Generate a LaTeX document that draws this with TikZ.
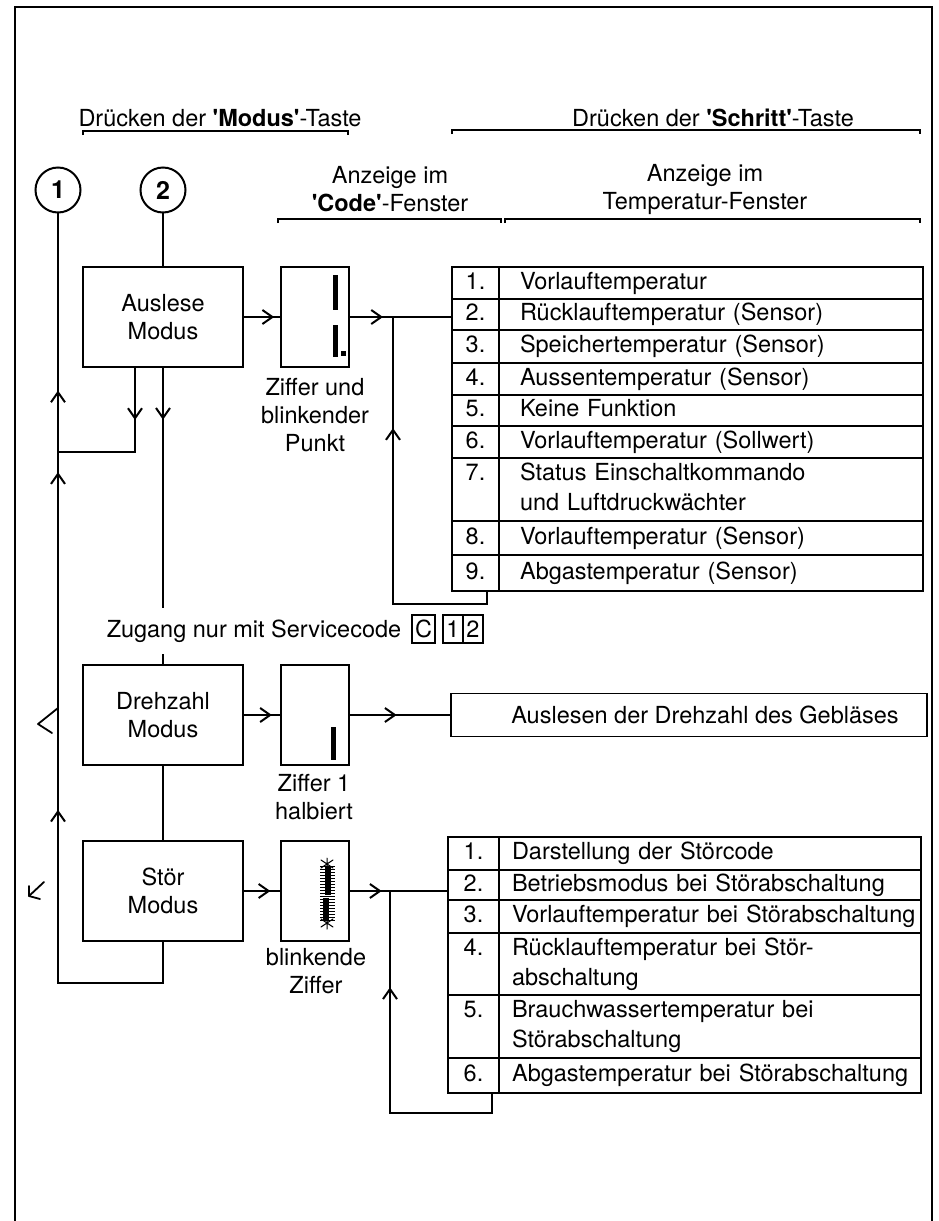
\documentclass[tikz,border=0pt]{standalone}
\usepackage{fontspec}
\setmainfont{TeX Gyre Heros}
\usepackage{tikz}
\usetikzlibrary{calc, positioning, arrows, arrows.meta, decorations.markings}
\tikzstyle{mode}=[draw, line width=0.9pt, minimum width=80pt, minimum height=50pt, inner sep=0pt, outer sep=0pt, align=center]
\tikzstyle{disp}=[draw, line width=0.9pt, minimum width=34pt, minimum height=50pt, inner sep=0pt, outer sep=0pt]
\tikzstyle{rnd}=[draw, circle, line width=1pt, minimum size=22.5pt, inner sep=0pt, outer sep=0pt, font=\fontsize{12.5pt}{14pt}\bfseries]
\tikzstyle{nrcell}=[draw, line width=0.6pt, anchor=north west, inner sep=0pt, outer sep=0pt, align=center, font=\fontsize{11.75pt}{15pt}\selectfont, execute at begin node=\strut, execute at end node=\strut]
\tikzstyle{txcell}=[draw, line width=0.6pt, anchor=north west, inner sep=0pt, outer sep=0pt, align=left, font=\fontsize{11.75pt}{15pt}\selectfont, execute at end node=\strut]
\tikzstyle{nra}=[nrcell, text width=23.5pt]
\tikzstyle{nrb}=[nrcell, text width=25.5pt]
\tikzstyle{txa}=[txcell, text width=212pt, execute at begin node={\leftskip=10.5pt\strut}]
\tikzstyle{txb}=[txcell, text width=211pt, execute at begin node={\leftskip=6.5pt\strut}]
\tikzstyle{kbox}=[draw, line width=0.6pt, minimum width=10pt, minimum height=14pt, inner sep=0pt, outer sep=0pt]
\tikzstyle{flow}=[line width=1pt]
\tikzstyle{brk}=[line width=0.6pt]
\tikzstyle{seg}=[line width=2.5pt]
\tikzstyle{pen}=[line width=0.9pt, line cap=round, line join=round]
\tikzset{arrat/.style={postaction={decoration={markings, mark=at position #1 with {\arrow{Straight Barb[length=5pt,width=7pt]}}}, decorate}}}
\newcommand{\qmk}{\textquotesingle}

\begin{document}
\begin{tikzpicture}[x=0.5pt, y=-0.5pt, font=\fontsize{11.75pt}{14pt}\selectfont]
\useasboundingbox (0,0) rectangle (938,1221);
\draw[line width=0.75pt] (15,1221) -- (15,7) -- (932,7) -- (932,1221);
% headings
\node (hmod) at (220,118) {Drücken der \textbf{\qmk Modus\qmk}-Taste};
\node (hschr) at (713,118) {Drücken der \textbf{\qmk Schritt\qmk}-Taste};
\node[align=center] (hcode) at (390,189) {Anzeige im\\\textbf{\qmk Code\qmk}-Fenster};
\node[align=center] (htemp) at (705,189) {Anzeige im\\Temperatur-Fenster};
\draw[brk] (83,135) -- (83,131) -- (348,131) -- (348,135);
\draw[brk] (452,134) -- (452,130) -- (920,130) -- (920,134);
\draw[brk] (278,223) -- (278,219) -- (501,219) -- (501,223);
\draw[brk] (505,223) -- (505,219) -- (920,219) -- (920,223);
%
\node[rnd] (c1) at (58,190) {1};
\node[rnd] (c2) at (163,190) {2};
%
\node[mode] (aus) at (163,317) {Auslese\\Modus};
\node[mode] (dreh) at (163,715) {Drehzahl\\Modus};
\node[mode] (stoer) at (163,891) {Stör\\Modus};
\node[disp] (cd1) at (315,317) {};
\node[disp] (cd2) at (315,715) {};
\node[disp] (cd3) at (315,891) {};
\node[align=center] (lab1) at (315,415) {Ziffer und\\blinkender\\Punkt};
\node[align=center] (lab2) at (314,797) {Ziffer 1\\halbiert};
\node[align=center] (lab3) at (316,971) {blinkende\\Ziffer};
%
\node[inner xsep=0pt, inner ysep=5.75pt] (zug) at (254,631) {Zugang nur mit Servicecode};
\node[kbox, minimum width=11.5pt] (kc) at (423.5,629) {C};
\node[kbox] (k1) at (453,629) {1};
\node[kbox] (k2) at (473,629) {2};
%
\node[draw, line width=0.6pt, minimum width=238pt, minimum height=21.5pt, inner sep=0pt] (ausl) at (689,715) {\hspace*{16pt}Auslesen der Drehzahl des Gebläses};
% digits in the code window
\draw[seg] (335,275) -- (335,310);
\draw[seg] (335,325) -- (335,357);
\fill (341,351) rectangle (346,356);
\draw[seg] (333,727) -- (333,760);
\draw[line width=7.5pt, dash pattern=on 0.6pt off 0.9pt] (327,866) -- (327,922);
\draw[line width=3pt] (328,866) -- (328,895);
\draw[line width=3pt] (326,898) -- (326,921);
\draw[pen, line width=0.5pt] (327,858) -- (327,866) (321,860) -- (333,868) (333,860) -- (321,868);
\draw[pen, line width=0.5pt] (327,921) -- (327,929) (321,927) -- (333,919) (333,927) -- (321,919);
% table 1
\node[nra, minimum height=16pt] (na1) at (452,267) {1.};
\node[txa, minimum height=16pt] (ta1) at (499,267) {Vorlauftemperatur};
\node[nra, minimum height=15.5pt] (na2) at (452,299) {2.};
\node[txa, minimum height=15.5pt] (ta2) at (499,299) {Rücklauftemperatur (Sensor)};
\node[nra, minimum height=16.5pt] (na3) at (452,330) {3.};
\node[txa, minimum height=16.5pt] (ta3) at (499,330) {Speichertemperatur (Sensor)};
\node[nra, minimum height=16pt] (na4) at (452,363) {4.};
\node[txa, minimum height=16pt] (ta4) at (499,363) {Aussentemperatur (Sensor)};
\node[nra, minimum height=15.5pt] (na5) at (452,395) {5.};
\node[txa, minimum height=15.5pt] (ta5) at (499,395) {Keine Funktion};
\node[nra, minimum height=16pt] (na6) at (452,426) {6.};
\node[txa, minimum height=16pt] (ta6) at (499,426) {Vorlauftemperatur (Sollwert)};
\node[nra, minimum height=31.5pt] (na7) at (452,458) {7.\\\phantom{7.}};
\node[txa, minimum height=31.5pt] (ta7) at (499,458) {Status Einschaltkommando\\und Luftdruckwächter};
\node[nra, minimum height=17pt] (na8) at (452,521) {8.};
\node[txa, minimum height=17pt] (ta8) at (499,521) {Vorlauftemperatur (Sensor)};
\node[nra, minimum height=18pt] (na9) at (452,555) {9.};
\node[txa, minimum height=18pt] (ta9) at (499,555) {Abgastemperatur (Sensor)};
% table 2
\node[nrb, minimum height=16.5pt] (nb1) at (448,837) {1.};
\node[txb, minimum height=16.5pt] (tb1) at (499,837) {Darstellung der Störcode};
\node[nrb, minimum height=15pt] (nb2) at (448,870) {2.};
\node[txb, minimum height=15pt] (tb2) at (499,870) {Betriebsmodus bei Störabschaltung};
\node[nrb, minimum height=16.5pt] (nb3) at (448,900) {3.};
\node[txb, minimum height=16.5pt] (tb3) at (499,900) {Vorlauftemperatur bei Störabschaltung};
\node[nrb, minimum height=31pt] (nb4) at (448,933) {4.\\\phantom{4.}};
\node[txb, minimum height=31pt] (tb4) at (499,933) {Rücklauftemperatur bei Stör-\\abschaltung};
\node[nrb, minimum height=31.5pt] (nb5) at (448,995) {5.\\\phantom{5.}};
\node[txb, minimum height=31.5pt] (tb5) at (499,995) {Brauchwassertemperatur bei\\Störabschaltung};
\node[nrb, minimum height=17.5pt] (nb6) at (448,1058) {6.};
\node[txb, minimum height=17.5pt] (tb6) at (499,1058) {Abgastemperatur bei Störabschaltung};
%
\coordinate (jl) at (58,452);
\coordinate (ja) at (393,317);
\coordinate (jb) at (390,891);
% connections
\draw[flow] (c2.south) -- (aus.north);
\draw[flow, arrat=0.219] (aus.south) -- (aus.south |- zug.north);
\draw[flow] (dreh.north |- zug.south) -- (dreh.north);
\draw[flow] (dreh.south) -- (stoer.north);
\draw[flow, arrat=0.327] ([xshift=-14pt]aus.south) |- (jl);
\draw[flow, arrat=0.349, arrat=0.717, arrat=0.806] (stoer.south) -- ++(0,42) -| (c1.south);
%
\draw[flow, arrat=0.82] (aus.east) -- (cd1.west);
\draw[flow, arrat=0.33] (cd1.east) -- (cd1.east -| na2.west);
\draw[flow, arrat=0.718] ([xshift=-6pt]na9.south east) -- ++(0,13) -| (ja);
\draw[flow, arrat=0.76] (dreh.east) -- (cd2.west);
\draw[flow, arrat=0.47] (cd2.east) -- (ausl.west);
\draw[flow, arrat=0.72] (stoer.east) -- (cd3.west);
\draw[flow, arrat=0.33] (cd3.east) -- (cd3.east -| nb2.west);
\draw[flow, arrat=0.72] ([xshift=-3.5pt]nb6.south east) -- ++(0,20) -| (jb);
% pen marks on the left
\draw[pen] (58,708) -- (38,724) -- (52,733);
\draw[pen] (44,882) -- (29,896);
\draw[pen] (29,886) -- (29,896) -- (40,899);
\end{tikzpicture}
\end{document}
